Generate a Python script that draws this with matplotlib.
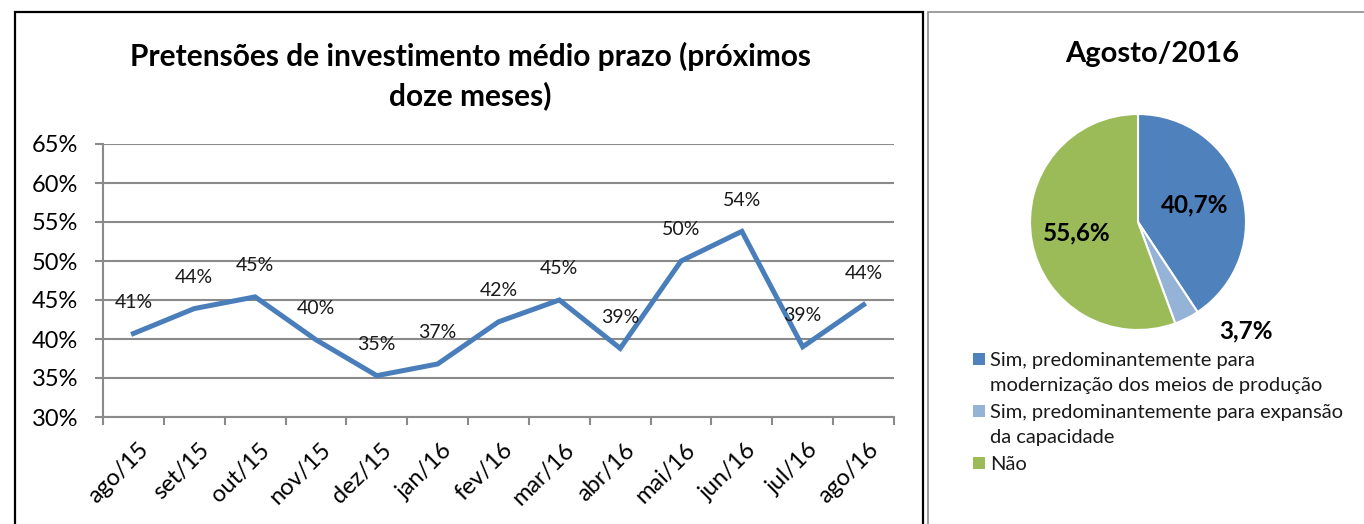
import matplotlib
matplotlib.use("Agg")
import matplotlib.pyplot as plt
from matplotlib.patches import Rectangle
import matplotlib.transforms as mtransforms
import numpy as np

plt.rcParams['font.family'] = ['Lato', 'DejaVu Sans']

months = ["ago/15", "set/15", "out/15", "nov/15", "dez/15", "jan/16", "fev/16",
          "mar/16", "abr/16", "mai/16", "jun/16", "jul/16", "ago/16"]
values = [40.7, 43.9, 45.4, 39.9, 35.3, 36.8, 42.2, 45.0, 38.8, 50.0, 53.8, 39.0, 44.4]
value_labels = ["41%", "44%", "45%", "40%", "35%", "37%", "42%", "45%", "39%",
                "50%", "54%", "39%", "44%"]
yticks = [30, 35, 40, 45, 50, 55, 60, 65]

pie_labels = ["Sim, predominantemente para\nmodernização dos meios de produção",
              "Sim, predominantemente para expansão\nda capacidade",
              "Não"]
pie_values = [40.7, 3.7, 55.6]
pie_texts = ["40,7%", "3,7%", "55,6%"]
pie_colors = ["#4F81BD", "#95B3D7", "#9BBB59"]

W, H = 1364, 524
fig = plt.figure(figsize=(W / 100, H / 100), dpi=100)

def fx(px):
    return px / W

def fy(py):
    return 1 - py / H

# panel borders
fig.patches.append(Rectangle((fx(15), fy(600)), fx(923) - fx(15), fy(12) - fy(600),
                             transform=fig.transFigure, fill=False, edgecolor='black', lw=1.6))
fig.patches.append(Rectangle((fx(928), fy(600)), fx(1400) - fx(928), fy(12) - fy(600),
                             transform=fig.transFigure, fill=False, edgecolor='#8c8c8c', lw=1.2))

# line chart
ax = fig.add_axes([fx(103), fy(417), fx(894) - fx(103), fy(144) - fy(417)])
x = np.arange(len(months))
ax.plot(x, values, color='#4A7EBB', lw=3.6, solid_joinstyle='miter', zorder=3)
for xi, v, t in zip(x, values, value_labels):
    ax.annotate(t, (xi, v), xytext=(0, 22.5), textcoords='offset points',
                ha='center', va='center', fontsize=14, color='#1a1a1a', zorder=4)
ax.set_xlim(-0.5, len(months) - 0.5)
ax.set_ylim(30, 65)
ax.set_yticks(yticks)
ax.set_yticklabels([f"{v}%" for v in yticks], fontsize=17)
ax.yaxis.grid(True, color='#8a8a8a', lw=1.5)
ax.set_axisbelow(True)
ax.set_xticks(x)
ax.set_xticklabels(months, rotation=45, ha='right', rotation_mode='anchor', fontsize=17)
ax.set_xticks(np.arange(-0.5, len(months), 1), minor=True)
ax.tick_params(axis='x', which='major', length=0, pad=16)
ax.tick_params(axis='x', which='minor', length=6, width=1.5, color='#8a8a8a')
ax.tick_params(axis='y', length=6, width=1.5, color='#8a8a8a', pad=12)
shift = mtransforms.ScaledTranslation(4 / 100, 0, fig.dpi_scale_trans)
for lbl in ax.get_xticklabels():
    lbl.set_transform(lbl.get_transform() + shift)
for s in ['top', 'right']:
    ax.spines[s].set_visible(False)
ax.spines['left'].set_color('#8a8a8a')
ax.spines['left'].set_linewidth(1.5)
ax.spines['bottom'].set_color('#8a8a8a')
ax.spines['bottom'].set_linewidth(1.5)

fig.text(fx(470), fy(56), "Pretensões de investimento médio prazo (próximos",
         ha='center', va='center', fontsize=21.5, fontweight='bold')
fig.text(fx(470), fy(96), "doze meses)", ha='center', va='center', fontsize=21.5, fontweight='bold')

# pie chart
cx, cy, r = 1138, 222, 108
pax = fig.add_axes([fx(cx - r), fy(cy + r), fx(2 * r), 2 * r / H])
wedges, _ = pax.pie(pie_values, colors=pie_colors, startangle=90, counterclock=False,
                    radius=1, wedgeprops=dict(edgecolor='white', linewidth=1.5))
pax.set_xlim(-1, 1)
pax.set_ylim(-1, 1)
pax.set_aspect('equal')
pax.axis('off')
dists = [0.55, 1.42, 0.58]
angle_shift = [0, 18, 0]
for w, t, d, sh in zip(wedges, pie_texts, dists, angle_shift):
    ang = np.deg2rad((w.theta1 + w.theta2) / 2 + sh)
    pax.text(d * np.cos(ang), d * np.sin(ang), t, ha='center', va='center',
             fontsize=17.5, fontweight='bold', clip_on=False)

fig.text(fx(1152), fy(54), "Agosto/2016", ha='center', va='center', fontsize=21, fontweight='bold')

# legend (drawn manually to control the line spacing)
line_h = 26
y0 = 359
row = 0
for lab, col in zip(pie_labels, pie_colors):
    yc = y0 + row * line_h
    fig.patches.append(Rectangle((fx(973), fy(yc + 6)), fx(12), 12 / H,
                                 transform=fig.transFigure, facecolor=col, edgecolor='none'))
    fig.text(fx(990), fy(yc - 7), lab, ha='left', va='top', fontsize=14.5,
             linespacing=1.55, color='#1a1a1a')
    row += lab.count("\n") + 1

fig.savefig("out.png", dpi=100)
